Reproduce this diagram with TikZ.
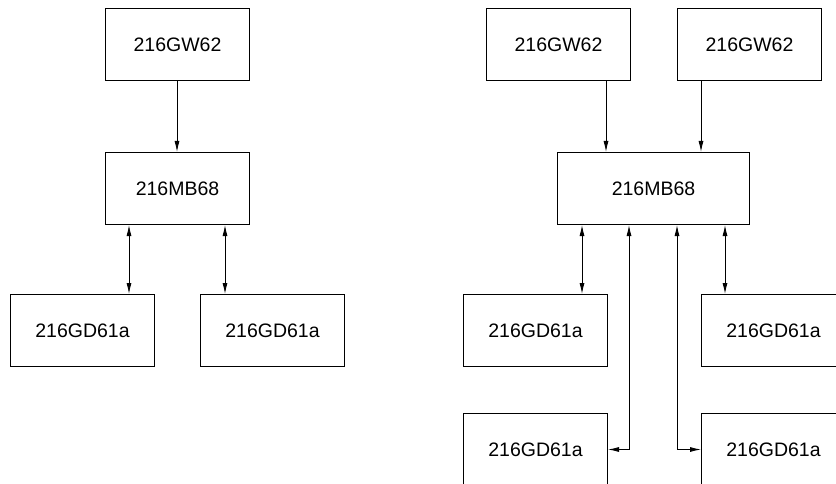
\documentclass[tikz,border=0pt]{standalone}
\usepackage{fontspec}
\setmainfont{Liberation Sans}
\usetikzlibrary{arrows.meta}
\tikzset{
  blk/.style={draw, line width=1pt, anchor=north west, minimum width=144pt, minimum height=72pt, inner sep=0pt, font=\fontsize{19.5}{19.5}\selectfont},
  wide/.style={blk, minimum width=192pt},
  conn/.style={line width=0.9pt, -{Latex[length=11pt,width=5pt]}},
  bconn/.style={line width=0.9pt, {Latex[length=11pt,width=5pt]}-{Latex[length=11pt,width=5pt]}}
}
\begin{document}
\begin{tikzpicture}[x=1pt,y=-1pt]
\useasboundingbox (0,0) rectangle (836,484);
\clip (0,0) rectangle (836,484);
% left diagram
\node[blk] (lg) at (105,8) {216GW62};
\node[blk] (lm) at (105,152) {216MB68};
\node[blk] (ld1) at (10,294) {216GD61a};
\node[blk] (ld2) at (200,294) {216GD61a};
\draw[conn] (lg.south -| 177,0) -- (lm.north -| 177,0);
\draw[bconn] ([xshift=24pt]lm.south west) -- ([xshift=24pt]lm.south west |- ld1.north);
\draw[bconn] ([xshift=120pt]lm.south west) -- ([xshift=120pt]lm.south west |- ld2.north);
% right diagram
\node[blk] (rg1) at (486,8) {216GW62};
\node[blk] (rg2) at (677,8) {216GW62};
\node[wide] (rm) at (557,152) {216MB68};
\node[blk] (rd1) at (463,294) {216GD61a};
\node[blk] (rd2) at (701,294) {216GD61a};
\node[blk] (rd3) at (463,413) {216GD61a};
\node[blk] (rd4) at (701,413) {216GD61a};
\draw[conn] ([xshift=120pt]rg1.south west) -- ([xshift=120pt]rg1.south west |- rm.north);
\draw[conn] ([xshift=24pt]rg2.south west) -- ([xshift=24pt]rg2.south west |- rm.north);
\draw[bconn] ([xshift=25pt]rm.south west) -- ([xshift=25pt]rm.south west |- rd1.north);
\draw[bconn] ([xshift=168pt]rm.south west) -- ([xshift=168pt]rm.south west |- rd2.north);
\draw[bconn] ([xshift=72pt]rm.south west) -- ([xshift=72pt]rm.south west |- rd3.east) -- (rd3.east);
\draw[bconn] ([xshift=120pt]rm.south west) -- ([xshift=120pt]rm.south west |- rd4.west) -- (rd4.west);
\end{tikzpicture}
\end{document}
